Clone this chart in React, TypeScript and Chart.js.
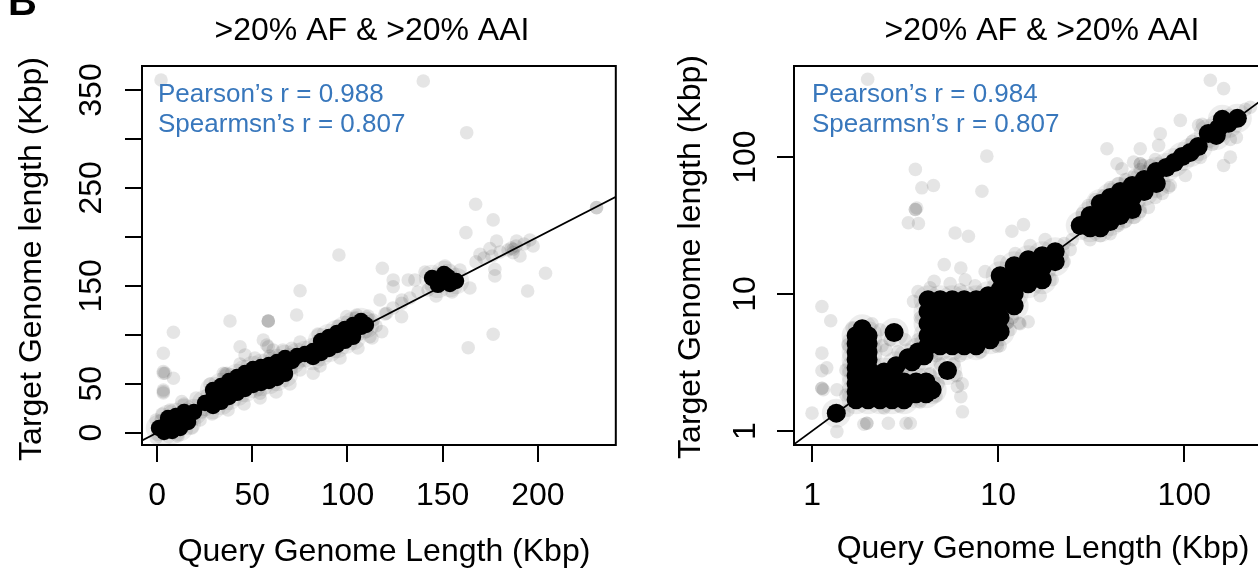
import React, { useEffect, useRef } from 'react';
import { Chart, registerables } from 'chart.js';

Chart.register(...registerables);

const FONT = '"Liberation Sans", Arial, Helvetica, sans-serif';
const BLUE = '#3877bc';

// ---------- shared text ----------
const PANEL_TITLE = '>20% AF & >20% AAI';
const X_TITLE = 'Query Genome Length (Kbp)';
const Y_TITLE = 'Target Genome length (Kbp)';
const LEFT_STATS = ['Pearson\u2019s r = 0.988', 'Spearmsn\u2019s r = 0.807'];
const RIGHT_STATS = ['Pearson\u2019s r = 0.984', 'Spearmsn\u2019s r = 0.807'];

// ---------- left panel (linear axes) ----------
const LEFT_X_TICKS = [0, 50, 100, 150, 200];
const LEFT_X_LABELS = ['0', '50', '100', '150', '200'];
const LEFT_Y_TICKS = [0, 50, 100, 150, 200, 250, 300, 350];
const LEFT_Y_LABELS = ['0', '50', '', '150', '', '250', '', '350'];
const LEFT_LINE: [number, number][] = [[-20, -20], [400, 400]];

const LEFT_CORE: [number, number][] = [
  [1.0, 4.8], [4.7, 7.9], [8.4, 8.9], [12.1, 13.0], [15.7, 17.1], [19.4, 21.1], [5.8, 15.0], [10.0, 17.1],
  [14.2, 21.1], [3.7, 0.7], [7.9, 1.7], [12.1, 4.8], [16.3, 10.9],
  [25.2, 30.3], [29.4, 35.4], [33.6, 39.5], [37.8, 44.6], [42.0, 48.7], [46.2, 52.8], [50.4, 56.9],
  [54.6, 58.9], [58.8, 61.0], [63.0, 64.1], [67.2, 68.1], [70.9, 73.2],
  [29.4, 43.6], [33.6, 47.7], [37.8, 52.8], [42.0, 56.9], [46.2, 61.0], [50.4, 65.1], [54.6, 67.1],
  [58.8, 69.2], [63.0, 72.2], [67.2, 76.3],
  [29.4, 27.3], [33.6, 31.4], [37.8, 36.5], [42.0, 40.6], [46.2, 44.6], [50.4, 48.7], [54.6, 50.8],
  [58.8, 52.8], [63.0, 55.9], [67.2, 60.0],
  [73.5, 78.3], [77.7, 80.4], [81.9, 83.4], [86.1, 87.5], [90.3, 91.6], [94.5, 95.7], [98.7, 99.8],
  [102.9, 103.9], [107.1, 108.0], [109.7, 110.0],
  [86.1, 93.7], [90.3, 97.8], [94.5, 101.9], [98.7, 106.0], [102.9, 110.0], [107.1, 114.1],
  [81.9, 77.3], [86.1, 81.4], [90.3, 85.5], [94.5, 89.6], [98.7, 93.7], [102.9, 97.8],
  [144.4, 158.0], [148.6, 156.0], [152.8, 159.0], [157.0, 154.9], [147.5, 150.9], [153.8, 151.9], [150.7, 162.1],
];

const LEFT_HALO: [number, number][] = [
  [-0.5, 13.0], [2.6, 19.1], [6.8, 23.2], [14.2, 29.3], [20.5, 35.4], [-0.5, -5.4], [11.0, -3.4], [18.4, 4.8],
  [22.6, 13.0], [23.6, 21.1],
  [27.8, 49.7], [35.7, 60.0], [43.6, 70.2], [51.4, 76.3], [59.3, 78.3], [66.1, 84.5],
  [28.9, 19.1], [37.3, 23.2], [45.7, 29.3], [54.1, 35.4], [62.5, 41.6], [69.8, 49.7],
  [75.1, 92.6], [84.5, 100.8], [95.0, 109.0], [104.5, 117.2], [110.8, 119.2],
  [75.1, 64.1], [85.6, 68.1], [96.1, 76.3], [105.5, 86.5], [112.9, 96.7],
  [115.0, 109.0], [119.7, 121.2], [123.9, 127.4], [128.6, 135.5], [132.8, 137.6], [137.0, 143.7],
  [140.7, 164.1], [142.3, 145.8], [159.1, 166.2], [164.3, 147.8], [151.2, 170.3], [154.9, 143.7], [146.5, 139.6],
  [167.5, 174.4], [171.7, 178.4], [175.9, 180.5], [180.1, 184.6], [184.3, 186.6], [188.5, 190.7],
  [192.7, 192.7], [195.8, 196.8], [187.0, 187.3], [186.0, 188.5],
];

const LEFT_OUTLIERS: [number, number][] = [
  [2.1, 360.2], [139.8, 359.2], [162.6, 306.4], [167.3, 233.3], [176.5, 217.3], [162.2, 204.3],
  [178.3, 195.8], [188.8, 195.8], [197.5, 190.7], [169.6, 182.2], [174.8, 188.0], [187.0, 183.9],
  [190.6, 180.5], [177.4, 160.1], [177.4, 166.9], [204.0, 162.8], [194.6, 144.7], [176.5, 100.5],
  [163.4, 86.8], [230.8, 229.8], [230.8, 229.8],
  [95.5, 181.5], [118.3, 167.9], [124.0, 156.0], [124.0, 149.1], [117.1, 135.5], [131.9, 156.0],
  [135.4, 156.0], [128.4, 118.5],
  [75.1, 145.0], [38.3, 114.1], [58.4, 114.1], [58.4, 114.1], [58.4, 114.1], [73.3, 120.2],
  [8.6, 102.6], [3.3, 81.1], [3.3, 60.7], [3.3, 62.5], [8.6, 55.6], [4.2, 60.7],
  [3.3, 41.9], [3.3, 43.5], [3.3, 40.5], [13.0, 31.7],
  [43.6, 87.8], [46.2, 79.4], [55.8, 94.7], [57.6, 89.6], [58.4, 87.8], [61.0, 84.5], [70.7, 86.2],
  [82.0, 60.7], [36.6, 60.7], [99.6, 118.5], [104.8, 120.2], [111.8, 98.1], [118.0, 103.2],
  [113.5, 115.1], [120.5, 122.0], [128.4, 132.2], [54.1, 40.2], [34.8, 60.7],
];

// ---------- right panel (log axes) ----------
const RIGHT_X_TICKS = [1, 10, 100];
const RIGHT_X_LABELS = ['1', '10', '100'];
const RIGHT_Y_TICKS = [1, 10, 100];
const RIGHT_Y_LABELS = ['1', '10', '100'];
const RIGHT_LINE: [number, number][] = [[0.5, 0.5], [1000, 1000]];

const RIGHT_CORE: [number, number][] = [
  [1.35, 1.35],
  [1.725, 4.95], [1.725, 4.33], [1.725, 3.78], [1.725, 3.31], [1.725, 2.89], [1.725, 2.53], [1.725, 2.21],
  [1.725, 1.93], [1.725, 1.69],
  [2.0, 4.95], [2.0, 4.33], [2.0, 3.78], [2.0, 3.31], [2.0, 2.89], [2.0, 2.53], [2.0, 2.21], [2.0, 1.93], [2.0, 1.69],
  [1.86, 5.57],
  [2.32, 2.28], [2.69, 2.28], [3.12, 2.28], [3.62, 2.28], [4.10, 2.28],
  [2.32, 1.87], [2.69, 1.87], [3.12, 1.87], [3.62, 1.87], [4.10, 1.87],
  [2.32, 1.69], [2.69, 1.69], [3.12, 1.69], [4.42, 2.0],
  [2.44, 2.70], [2.83, 2.99], [3.28, 3.42], [3.45, 3.20], [3.71, 3.78], [4.0, 3.54],
  [2.76, 5.24], [5.34, 2.76],
  [4.20, 9.08], [4.20, 7.42], [4.20, 6.06], [4.20, 4.95], [4.20, 4.19],
  [4.88, 9.08], [4.88, 7.42], [4.88, 6.06], [4.88, 4.95], [4.88, 4.19],
  [5.66, 9.08], [5.66, 7.42], [5.66, 6.06], [5.66, 4.95], [5.66, 4.19],
  [6.57, 9.08], [6.57, 7.42], [6.57, 6.06], [6.57, 4.95], [6.57, 4.19],
  [7.62, 9.08], [7.62, 7.42], [7.62, 6.06], [7.62, 4.95], [7.62, 4.19],
  [8.84, 9.72], [8.84, 7.67], [8.84, 6.27], [8.84, 5.12], [9.06, 4.63],
  [10.25, 13.61], [10.25, 10.75], [10.25, 8.49], [10.25, 6.71], [10.25, 5.30],
  [12.19, 16.11], [12.19, 12.72], [12.19, 10.05], [12.19, 8.21],
  [14.5, 17.82], [14.5, 14.56], [14.5, 11.89],
  [17.25, 19.06], [17.25, 15.57], [17.25, 12.72], [20.25, 20.39], [20.25, 17.23],
  [27.6, 31.6], [31.2, 37.4], [31.2, 30.5], [35.4, 45.8], [35.4, 37.4], [35.4, 30.5],
  [40.0, 50.6], [40.0, 41.4], [40.0, 33.8], [45.3, 56.0], [45.3, 45.8], [45.3, 37.4],
  [52.5, 62.0], [52.5, 50.6], [52.5, 41.4], [60.9, 68.6], [60.9, 56.0], [70.7, 78.5], [70.7, 64.1], [80.0, 83.9],
  [88.4, 91.3], [97.5, 101.0], [107.7, 108.1], [118.9, 119.5],
  [134.6, 148.8], [152.4, 161.9], [172.5, 176.1], [192.8, 191.6], [160.1, 188.4], [148.6, 143.9],
];

const RIGHT_HALO: [number, number][] = [
  [1.56, 1.42], [1.52, 1.83], [1.52, 2.79], [1.56, 4.26], [1.64, 5.67], [2.10, 6.06], [2.32, 5.48], [3.16, 4.63],
  [2.38, 4.19], [2.50, 3.91], [2.63, 4.63], [2.90, 3.78],
  [2.44, 1.47], [2.97, 1.52], [3.81, 1.63], [4.64, 1.80], [4.76, 2.21], [4.31, 2.61],
  [4.88, 3.09], [5.95, 2.53], [5.80, 3.09], [6.41, 2.21],
  [3.71, 10.4], [3.81, 6.71], [3.71, 4.63], [4.64, 3.54], [6.25, 3.54], [8.0, 3.78], [10.25, 4.19], [11.6, 5.48],
  [13.1, 6.06], [14.5, 6.27], [11.9, 6.71],
  [4.31, 11.1], [5.52, 11.9], [6.65, 12.7], [6.25, 10.75], [7.52, 11.5], [8.51, 14.56], [10.25, 17.23],
  [12.35, 19.71], [14.86, 22.56], [17.89, 24.96],
  [16.82, 9.72], [19.51, 12.72], [22.63, 17.23], [24.38, 21.09],
  [22.63, 23.33], [25.0, 24.96],
  [28.29, 38.67], [33.23, 48.96], [40.0, 59.9], [48.2, 68.6], [58.0, 81.1], [69.9, 96.0],
  [30.5, 44.3], [37.1, 52.4], [44.2, 64.1], [53.8, 73.3], [65.7, 86.8],
  [31.2, 24.96], [40.0, 27.6], [48.2, 33.8], [58.0, 40.0], [69.9, 50.6], [84.1, 62.0], [101.3, 73.3],
  [35.4, 26.7], [44.2, 31.6], [53.8, 36.2], [64.1, 42.8], [76.2, 54.2],
  [110.4, 130.1], [121.9, 99.3], [141.4, 123.7], [212.8, 222.9], [226.4, 230.7], [125.0, 173.2],
  [176.7, 134.5], [190.4, 139.1],
];

const RIGHT_OUTLIERS: [number, number][] = [
  [1.99, 370], [3.59, 81.2], [3.89, 59.6], [4.49, 62.0], [3.59, 41.4], [3.59, 41.4], [3.65, 42.5],
  [3.29, 33.1], [3.73, 32.7],
  [1.13, 8.11], [1.26, 6.38], [1.13, 3.70], [1.13, 2.75], [1.20, 2.89], [1.13, 2.05], [1.13, 2.05], [1.15, 2.0],
  [1.36, 2.0], [1.0, 1.35], [1.36, 0.99], [1.97, 1.14], [1.97, 1.14], [1.9, 1.12], [2.57, 1.14], [3.37, 1.14], [3.2, 1.14],
  [3.51, 8.83], [6.43, 1.38], [6.30, 1.78], [6.04, 2.11], [5.13, 16.4], [6.30, 15.5], [4.53, 12.4],
  [11.2, 6.14], [11.2, 6.14], [12.97, 6.14], [9.91, 4.14],
  [8.69, 101.5], [8.18, 56.3], [5.87, 27.9], [6.92, 26.4], [11.85, 28.7], [13.68, 32.1],
  [138.0, 363.4], [162.7, 316.0], [95.2, 185.2], [74.3, 148.1], [72.8, 121.6], [58.0, 115.0],
  [58.0, 89.3], [58.0, 89.3], [60.4, 86.8], [38.4, 115.0], [46.2, 82.1], [43.5, 89.3], [53.4, 91.8],
  [82.3, 60.2], [162.7, 86.8], [176.7, 99.8], [119.4, 170.3], [53.4, 38.5],
];

// ---------- drawing ----------
const POINT_R = 6.8;
const TICK_LEN = 17;
const LABEL_PX = 32;
const STAT_PX = 26;

type PanelCfg = {
  xTicks: number[]; xLabels: string[]; yTicks: number[]; yLabels: string[];
  stats: string[]; statX: number; titleX: number; xTitleX: number; xTitleBase: number;
  yTickBaseX: number; yTitleBaseX: number; yTitleY: number; showB: boolean;
};

const toPts = (pairs: [number, number][]) => pairs.map(([x, y]) => ({ x, y }));

const scatterSet = (label: string, pairs: [number, number][], color: string, r: number) => ({
  label,
  data: toPts(pairs),
  showLine: false,
  pointRadius: r,
  pointHoverRadius: r,
  pointBackgroundColor: color,
  pointBorderColor: 'rgba(0,0,0,0)',
  pointBorderWidth: 0,
  clip: 0,
});

function panelPlugin(cfg: PanelCfg) {
  return {
    id: 'panelDecor',
    afterDraw(chart: any) {
      const { ctx, chartArea: a, scales } = chart;
      const xs = scales.x;
      const ys = scales.y;
      ctx.save();
      ctx.strokeStyle = '#000';
      ctx.lineWidth = 2;
      ctx.strokeRect(a.left, a.top, a.right - a.left, a.bottom - a.top);
      ctx.beginPath();
      cfg.xTicks.forEach((v) => {
        const px = Math.round(xs.getPixelForValue(v));
        ctx.moveTo(px, a.bottom);
        ctx.lineTo(px, a.bottom + TICK_LEN);
      });
      cfg.yTicks.forEach((v) => {
        const py = Math.round(ys.getPixelForValue(v));
        ctx.moveTo(a.left, py);
        ctx.lineTo(a.left - TICK_LEN, py);
      });
      ctx.stroke();

      ctx.fillStyle = '#000';
      ctx.font = `${LABEL_PX}px ${FONT}`;
      ctx.textAlign = 'center';
      ctx.textBaseline = 'alphabetic';
      cfg.xTicks.forEach((v, i) => {
        ctx.fillText(cfg.xLabels[i], xs.getPixelForValue(v), 505);
      });
      cfg.yTicks.forEach((v, i) => {
        if (!cfg.yLabels[i]) return;
        ctx.save();
        ctx.translate(cfg.yTickBaseX, ys.getPixelForValue(v));
        ctx.rotate(-Math.PI / 2);
        ctx.fillText(cfg.yLabels[i], 0, 0);
        ctx.restore();
      });
      ctx.fillText(X_TITLE, cfg.xTitleX, cfg.xTitleBase);
      ctx.save();
      ctx.translate(cfg.yTitleBaseX, cfg.yTitleY);
      ctx.rotate(-Math.PI / 2);
      ctx.fillText(Y_TITLE, 0, 0);
      ctx.restore();
      ctx.fillText(PANEL_TITLE, cfg.titleX, 40);
      ctx.fillStyle = BLUE;
      ctx.font = `${STAT_PX}px ${FONT}`;
      ctx.textAlign = 'left';
      ctx.fillText(cfg.stats[0], cfg.statX, 102);
      ctx.fillText(cfg.stats[1], cfg.statX, 132);
      if (cfg.showB) {
        ctx.fillStyle = '#000';
        ctx.font = `bold 40px ${FONT}`;
        ctx.fillText('B', 8, 15);
      }
      ctx.restore();
    },
  };
}

function buildChart(
  canvas: HTMLCanvasElement,
  kind: 'linear' | 'logarithmic',
  ranges: { xmin: number; xmax: number; ymin: number; ymax: number },
  padding: { left: number; right: number; top: number; bottom: number },
  line: [number, number][],
  core: [number, number][],
  halo: [number, number][],
  outliers: [number, number][],
  coreR: number,
  cfg: PanelCfg,
) {
  return new Chart(canvas, {
    type: 'scatter',
    data: {
      datasets: [
        {
          label: 'y = x',
          data: toPts(line),
          showLine: true,
          borderColor: '#000',
          borderWidth: 1.8,
          pointRadius: 0,
          pointHoverRadius: 0,
          backgroundColor: 'rgba(0,0,0,0)',
          clip: 0,
        } as any,
        scatterSet('core', core, '#000', coreR),
        scatterSet('core spread', core, 'rgba(0,0,0,0.07)', coreR + 5),
        scatterSet('halo', halo, 'rgba(0,0,0,0.1)', POINT_R),
        scatterSet('outliers', outliers, 'rgba(0,0,0,0.1)', POINT_R),
      ],
    },
    options: {
      responsive: false,
      animation: false,
      devicePixelRatio: 1,
      layout: { padding },
      plugins: { legend: { display: false }, tooltip: { enabled: false }, title: { display: false } },
      events: [],
      scales: {
        x: { type: kind, min: ranges.xmin, max: ranges.xmax, display: false },
        y: { type: kind, min: ranges.ymin, max: ranges.ymax, display: false },
      },
    },
    plugins: [panelPlugin(cfg)],
  } as any);
}

export default function App() {
  const leftRef = useRef<HTMLCanvasElement | null>(null);
  const rightRef = useRef<HTMLCanvasElement | null>(null);

  useEffect(() => {
    const charts: Chart[] = [];
    if (leftRef.current) {
      charts.push(
        buildChart(
          leftRef.current,
          'linear',
          { xmin: -7.9, xmax: 240.9, ymin: -12.6, ymax: 374.5 },
          { left: 142, right: 13, top: 66, bottom: 126 },
          LEFT_LINE, LEFT_CORE, LEFT_HALO, LEFT_OUTLIERS, 8.2,
          {
            xTicks: LEFT_X_TICKS, xLabels: LEFT_X_LABELS, yTicks: LEFT_Y_TICKS, yLabels: LEFT_Y_LABELS,
            stats: LEFT_STATS, statX: 158, titleX: 372, xTitleX: 384, xTitleBase: 561,
            yTickBaseX: 101, yTitleBaseX: 41, yTitleY: 259, showB: true,
          },
        ),
      );
    }
    if (rightRef.current) {
      charts.push(
        buildChart(
          rightRef.current,
          'logarithmic',
          { xmin: 0.8, xmax: 462, ymin: 0.79, ymax: 462 },
          { left: 165, right: 21, top: 66, bottom: 126 },
          RIGHT_LINE, RIGHT_CORE, RIGHT_HALO, RIGHT_OUTLIERS, 9.5,
          {
            xTicks: RIGHT_X_TICKS, xLabels: RIGHT_X_LABELS, yTicks: RIGHT_Y_TICKS, yLabels: RIGHT_Y_LABELS,
            stats: RIGHT_STATS, statX: 183, titleX: 413, xTitleX: 414, xTitleBase: 558,
            yTickBaseX: 126, yTitleBaseX: 71, yTitleY: 257, showB: false,
          },
        ),
      );
    }
    return () => charts.forEach((c) => c.destroy());
  }, []);

  return (
    <div
      style={{
        position: 'fixed', left: 0, top: 0, width: 1258, height: 571,
        overflow: 'hidden', background: '#fff',
      }}
    >
      <canvas
        ref={leftRef}
        width={629}
        height={571}
        style={{ position: 'absolute', left: 0, top: 0, width: 629, height: 571 }}
      />
      <canvas
        ref={rightRef}
        width={700}
        height={571}
        style={{ position: 'absolute', left: 629, top: 0, width: 700, height: 571 }}
      />
    </div>
  );
}
